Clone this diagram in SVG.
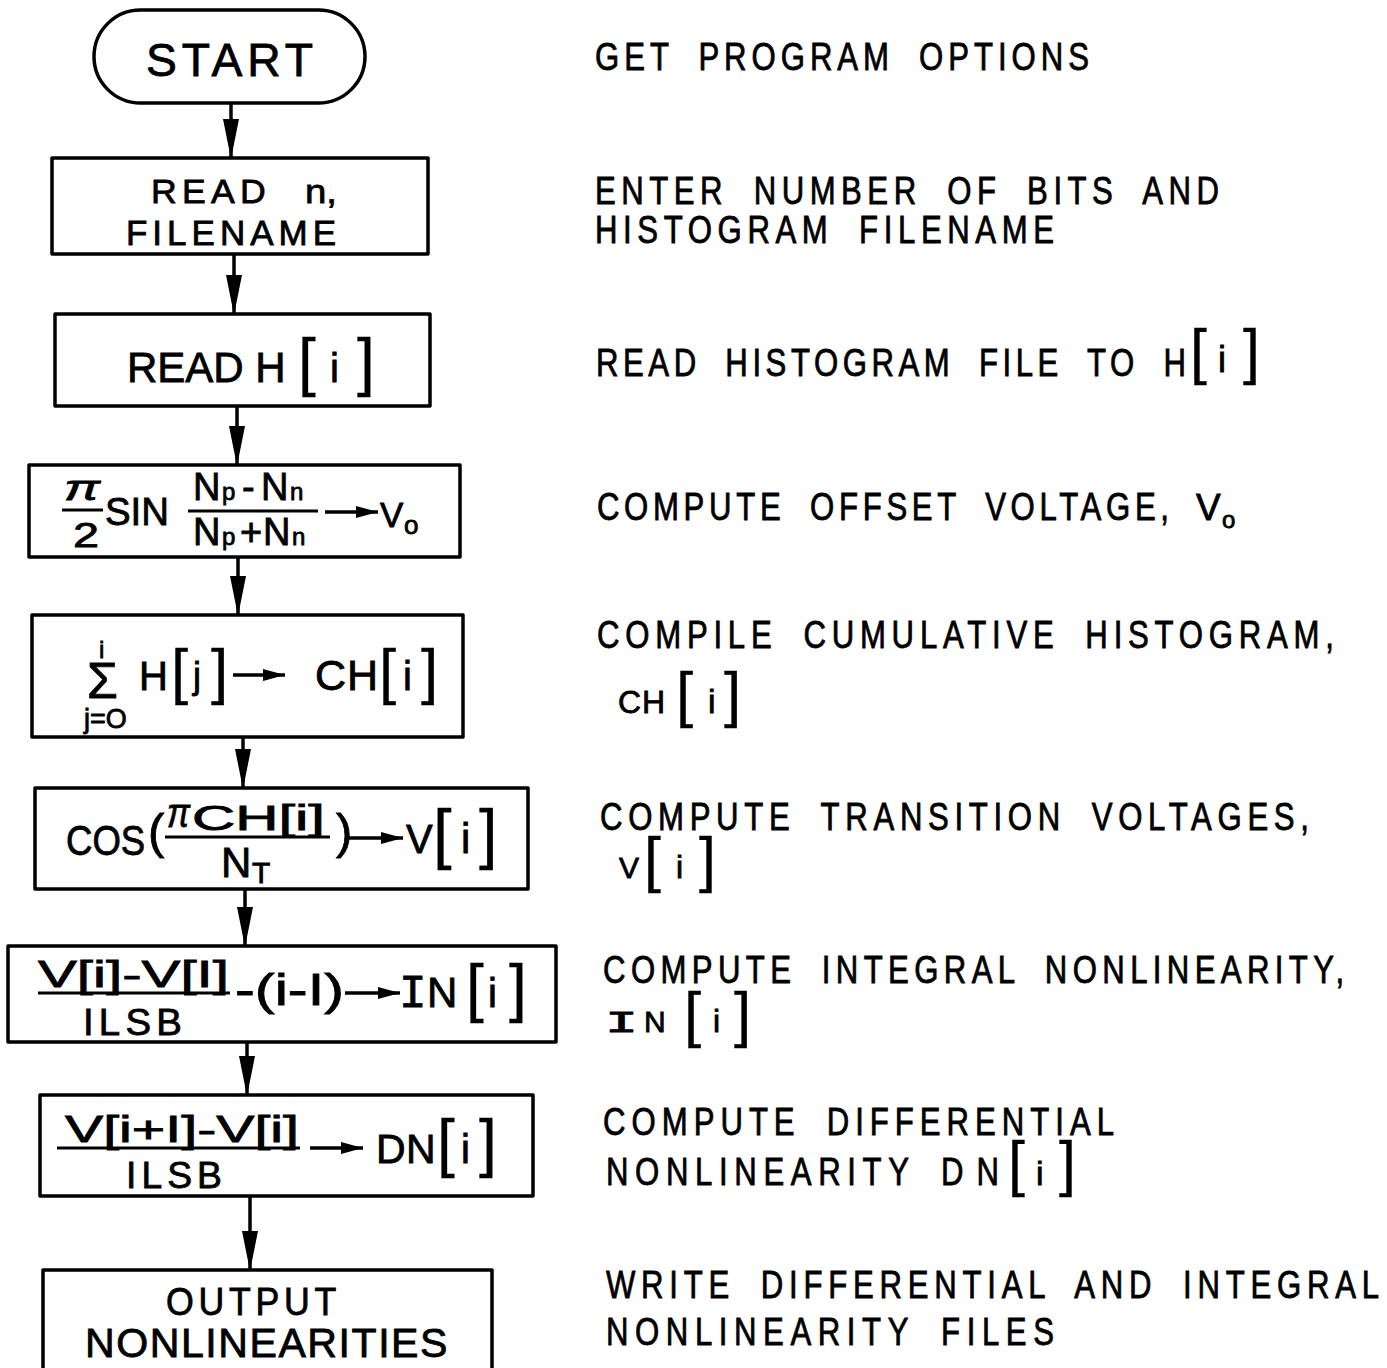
<svg xmlns="http://www.w3.org/2000/svg" width="1387" height="1368" viewBox="0 0 1387 1368">
<defs>
<style>
.bg{fill:#fff}
.box{fill:none;stroke:#000;stroke-width:3.5;stroke-linejoin:round}
.t{font-family:"Liberation Sans",Arial,sans-serif;fill:#000;stroke:#000;stroke-width:0.8}
.m{font-family:"Liberation Mono","Courier New",monospace;fill:#000;stroke:#000;stroke-width:0.8}
.bk{stroke-width:0.3}
.r{font-size:38px;word-spacing:14px}
.ls{letter-spacing:5px}
.bar{stroke:#000;stroke-width:3;fill:none}
.con{stroke:#000;stroke-width:3.5;fill:none;marker-end:url(#big)}
.ia{stroke:#000;stroke-width:3.5;fill:none;marker-end:url(#small)}
</style>
<marker id="big" markerUnits="userSpaceOnUse" markerWidth="40" markerHeight="18" viewBox="0 0 40 18" refX="39" refY="9" orient="auto"><path d="M0,1 L40,9 L0,17 z" fill="#000"/></marker>
<marker id="small" markerUnits="userSpaceOnUse" markerWidth="22" markerHeight="12" viewBox="0 0 22 12" refX="22" refY="6" orient="auto"><path d="M0,0 L22,6 L0,12 z" fill="#000"/></marker>
</defs>
<rect class="bg" x="0" y="0" width="1387" height="1368"/>

<g id="connectors">
<path class="con" d="M231,103 V158"/>
<path class="con" d="M234,254 V314"/>
<path class="con" d="M237,406 V465"/>
<path class="con" d="M238,557 V615"/>
<path class="con" d="M243,737 V788"/>
<path class="con" d="M245,889 V946"/>
<path class="con" d="M247,1042 V1095"/>
<path class="con" d="M250,1196 V1270"/>
</g>

<g id="start">
<rect class="box" x="94" y="10" width="271" height="93" rx="46.5"/>
<text class="t ls" x="146" y="76" font-size="47" textLength="172" lengthAdjust="spacingAndGlyphs">START</text>
</g>

<g id="read-n">
<rect class="box" x="52" y="158" width="376" height="96"/>
<text class="t ls" x="151" y="203" font-size="34" textLength="120" lengthAdjust="spacingAndGlyphs">READ</text>
<text class="t" x="305" y="203" font-size="34" textLength="32" lengthAdjust="spacingAndGlyphs">n,</text>
<text class="t ls" x="126" y="245" font-size="35" textLength="215" lengthAdjust="spacingAndGlyphs">FILENAME</text>
</g>

<g id="read-h">
<rect class="box" x="55" y="314" width="375" height="92"/>
<text class="t" y="382" font-size="42"><tspan x="127">READ H</tspan><tspan class="bk" x="298" y="384" font-size="64">[</tspan><tspan x="330" y="382" font-size="40">i</tspan><tspan class="bk" x="357" y="384" font-size="64">]</tspan></text>
</g>

<g id="offset">
<rect class="box" x="29" y="465" width="431" height="92"/>
<text class="t" x="64" y="500" font-size="36" font-style="italic" textLength="36" lengthAdjust="spacingAndGlyphs">π</text>
<line class="bar" x1="62" y1="510" x2="103" y2="510"/>
<text class="t" x="73" y="547" font-size="35" textLength="26" lengthAdjust="spacingAndGlyphs">2</text>
<text class="t" x="105" y="525" font-size="39" textLength="64" lengthAdjust="spacingAndGlyphs">SIN</text>
<text class="t" y="500" font-size="38"><tspan x="193">N</tspan><tspan x="222" font-size="24">p</tspan><tspan x="242">-</tspan><tspan x="261">N</tspan><tspan x="290" font-size="24">n</tspan></text>
<line class="bar" x1="188" y1="511" x2="318" y2="511"/>
<text class="t" y="545" font-size="38"><tspan x="193">N</tspan><tspan x="222" font-size="24">p</tspan><tspan x="240">+</tspan><tspan x="263">N</tspan><tspan x="292" font-size="24">n</tspan></text>
<path class="ia" d="M325,512 H378"/>
<text class="t" x="380" y="527" font-size="35">V<tspan x="404" y="534" font-size="26">o</tspan></text>
</g>

<g id="cumulative">
<rect class="box" x="32" y="615" width="431" height="122"/>
<text class="t"><tspan x="99" y="658" font-size="24">i</tspan><tspan x="87" y="698" font-size="50">Σ</tspan><tspan x="84" y="728" font-size="27">j=O</tspan></text>
<text class="t" y="690" font-size="40"><tspan x="139">H</tspan><tspan class="bk" x="171" y="692" font-size="62">[</tspan><tspan x="193" y="688" font-size="36">j</tspan><tspan class="bk" x="211" y="692" font-size="62">]</tspan></text>
<path class="ia" d="M233,675 H285"/>
<text class="t" y="690" font-size="43"><tspan x="315">C</tspan><tspan x="347">H</tspan><tspan class="bk" x="379" y="692" font-size="62">[</tspan><tspan x="403" y="690" font-size="40">i</tspan><tspan class="bk" x="421" y="692" font-size="62">]</tspan></text>
</g>

<g id="transition">
<rect class="box" x="35" y="788" width="493" height="101"/>
<text class="t" transform="scale(0.87,1)" x="75.9" y="855" font-size="42">COS</text>
<text class="t" x="148" y="848" font-size="49">(</text>
<text class="t" x="167" y="827" font-size="40" font-style="italic" textLength="23" lengthAdjust="spacingAndGlyphs">π</text>
<text class="t" x="192" y="830" font-size="35" textLength="133" lengthAdjust="spacingAndGlyphs">CH[i]</text>
<line class="bar" x1="165" y1="837" x2="330" y2="837"/>
<text class="t" x="221" y="877" font-size="42">N<tspan x="252" y="883" font-size="30">T</tspan></text>
<text class="t" x="336" y="848" font-size="49">)</text>
<path class="ia" d="M348,838 H403"/>
<text class="t" y="853" font-size="40"><tspan x="406">V</tspan><tspan class="bk" x="433" y="856" font-size="67">[</tspan><tspan x="461" y="853" font-size="42">i</tspan><tspan class="bk" x="479" y="856" font-size="67">]</tspan></text>
</g>

<g id="integral">
<rect class="box" x="8" y="946" width="548" height="96"/>
<text class="t" x="38" y="987" font-size="37" textLength="191" lengthAdjust="spacingAndGlyphs">V[i]-V[I]</text>
<line class="bar" x1="38" y1="993" x2="230" y2="993"/>
<text class="t ls" x="83" y="1035" font-size="37" textLength="104" lengthAdjust="spacingAndGlyphs">ILSB</text>
<text class="t" x="235" y="1005" font-size="44" textLength="109" lengthAdjust="spacingAndGlyphs">-(i-I)</text>
<path class="ia" d="M345,993 H400"/>
<text class="t" y="1007" font-size="42"><tspan class="m" x="399" font-size="46">I</tspan><tspan x="427">N</tspan><tspan class="bk" x="466" y="1010" font-size="64">[</tspan><tspan x="488" y="1007" font-size="40">i</tspan><tspan class="bk" x="509" y="1010" font-size="64">]</tspan></text>
</g>

<g id="differential">
<rect class="box" x="40" y="1095" width="493" height="101"/>
<text class="t" x="65" y="1142" font-size="37" textLength="234" lengthAdjust="spacingAndGlyphs">V[i+I]-V[i]</text>
<line class="bar" x1="57" y1="1148" x2="300" y2="1148"/>
<text class="t ls" x="126" y="1188" font-size="37" textLength="101" lengthAdjust="spacingAndGlyphs">ILSB</text>
<path class="ia" d="M310,1148 H363"/>
<text class="t" y="1163" font-size="41"><tspan x="376">D</tspan><tspan x="406">N</tspan><tspan class="bk" x="437" y="1165" font-size="64">[</tspan><tspan x="461" y="1163" font-size="40">i</tspan><tspan class="bk" x="479" y="1165" font-size="64">]</tspan></text>
</g>

<g id="output">
<rect class="box" x="43" y="1270" width="449" height="110"/>
<text class="t ls" x="166" y="1315" font-size="38" textLength="175" lengthAdjust="spacingAndGlyphs">OUTPUT</text>
<text class="t" x="85" y="1357" font-size="40" style="letter-spacing:1.5px" textLength="364" lengthAdjust="spacingAndGlyphs">NONLINEARITIES</text>
</g>

<g id="descriptions">
<g transform="scale(0.82,1)">
<text class="t r" x="725.6" y="70" textLength="602.4" lengthAdjust="spacing">GET PROGRAM OPTIONS</text>
<text class="t r" x="725.6" y="204" textLength="761" lengthAdjust="spacing">ENTER NUMBER OF BITS AND</text>
<text class="t r" x="725.6" y="243" textLength="559.8" lengthAdjust="spacing">HISTOGRAM FILENAME</text>
<text class="t r" x="726.8" y="376" textLength="719.5" lengthAdjust="spacing">READ HISTOGRAM FILE TO H</text>
<text class="t r" x="728" y="520" textLength="697.6" lengthAdjust="spacing">COMPUTE OFFSET VOLTAGE,</text>
<text class="t r" x="728" y="648" textLength="898.8" lengthAdjust="spacing">COMPILE CUMULATIVE HISTOGRAM,</text>
<text class="t r" x="731.7" y="830" textLength="864.6" lengthAdjust="spacing">COMPUTE TRANSITION VOLTAGES,</text>
<text class="t r" x="735.4" y="983" textLength="903.7" lengthAdjust="spacing">COMPUTE INTEGRAL NONLINEARITY,</text>
<text class="t r" x="735.4" y="1135" textLength="623.2" lengthAdjust="spacing">COMPUTE DIFFERENTIAL</text>
<text class="t r" x="739" y="1185" textLength="369.5" lengthAdjust="spacing">NONLINEARITY</text>
<text class="t r" x="1147.6" y="1185" textLength="70.7" lengthAdjust="spacing">DN</text>
<text class="t r" x="739" y="1298" textLength="942.7" lengthAdjust="spacing">WRITE DIFFERENTIAL AND INTEGRAL</text>
<text class="t r" x="739" y="1345" textLength="546.3" lengthAdjust="spacing">NONLINEARITY FILES</text>
</g>
<text class="t"><tspan class="bk" x="1190" y="372" font-size="61">[</tspan><tspan x="1218" y="372" font-size="36">i</tspan><tspan class="bk" x="1243" y="372" font-size="61">]</tspan></text>
<text class="t" x="1196" y="520" font-size="37">V<tspan x="1222" y="528" font-size="24">o</tspan></text>
<text class="t" y="713" font-size="32"><tspan x="618">C</tspan><tspan x="642">H</tspan><tspan class="bk" x="676" y="715" font-size="62">[</tspan><tspan x="708" y="713" font-size="34">i</tspan><tspan class="bk" x="724" y="715" font-size="62">]</tspan></text>
<text class="t" y="878" font-size="30"><tspan x="619">V</tspan><tspan class="bk" x="644" y="880" font-size="61">[</tspan><tspan x="676" y="878" font-size="32">i</tspan><tspan class="bk" x="699" y="880" font-size="61">]</tspan></text>
<text class="m" x="605" y="1032" font-size="30" textLength="33" lengthAdjust="spacingAndGlyphs">I</text>
<text class="t" y="1032" font-size="30"><tspan x="644">N</tspan><tspan class="bk" x="684" y="1035" font-size="62">[</tspan><tspan x="713" y="1032" font-size="32">i</tspan><tspan class="bk" x="734" y="1035" font-size="62">]</tspan></text>
<text class="t"><tspan class="bk" x="1008" y="1184" font-size="61">[</tspan><tspan x="1036" y="1185" font-size="34">i</tspan><tspan class="bk" x="1059" y="1184" font-size="61">]</tspan></text>
</g>
</svg>
